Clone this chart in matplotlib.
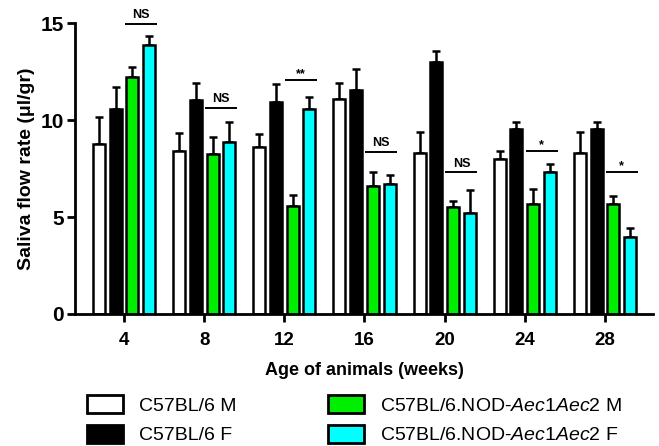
import matplotlib
matplotlib.use("Agg")
import matplotlib.pyplot as plt
from matplotlib.patches import Patch
import numpy as np

plt.rcParams['font.family'] = ['Liberation Sans', 'DejaVu Sans']
plt.rcParams['mathtext.fontset'] = 'custom'
plt.rcParams['mathtext.it'] = 'Liberation Sans:italic'
plt.rcParams['mathtext.rm'] = 'Liberation Sans'

ages = ["4", "8", "12", "16", "20", "24", "28"]
series_names = ["C57BL/6 M", "C57BL/6 F",
                "C57BL/6.NOD-$\\mathit{Aec1Aec2}$ M", "C57BL/6.NOD-$\\mathit{Aec1Aec2}$ F"]
b6_m = [8.78, 8.42, 8.62, 11.10, 8.30, 8.00, 8.30]
b6_m_err = [1.37, 0.93, 0.64, 0.80, 1.08, 0.42, 1.08]
b6_f = [10.58, 11.06, 10.93, 11.53, 13.00, 9.52, 9.52]
b6_f_err = [1.12, 0.86, 0.94, 1.11, 0.54, 0.38, 0.38]
nod_m = [12.20, 8.23, 5.55, 6.61, 5.50, 5.65, 5.69]
nod_m_err = [0.55, 0.92, 0.58, 0.73, 0.32, 0.79, 0.41]
nod_f = [13.85, 8.87, 10.58, 6.68, 5.22, 7.34, 3.95]
nod_f_err = [0.51, 1.03, 0.59, 0.48, 1.17, 0.39, 0.50]
sig_labels = ["NS", "NS", "**", "NS", "NS", "*", "*"]
sig_heights = [14.96, 10.65, 12.06, 8.37, 7.30, 8.40, 7.32]

colors = ["white", "black", "#00ee00", "#00ffff"]
values = [b6_m, b6_f, nod_m, nod_f]
errors = [b6_m_err, b6_f_err, nod_m_err, nod_f_err]

fig = plt.figure(figsize=(6.59, 4.46), dpi=100)
ax = fig.add_axes([0.114, 0.296, 0.877, 0.652])

x = np.arange(len(ages))
step = 0.209
width = 0.15
for i, (v, e, c) in enumerate(zip(values, errors, colors)):
    pos = x + (i - 1.5) * step
    ax.bar(pos, v, width=width, color=c, edgecolor="black", linewidth=1.8, zorder=2)
    ax.errorbar(pos, v, yerr=[np.zeros(len(e)), e], fmt="none", ecolor="black",
                elinewidth=1.8, capsize=3.2, capthick=1.8, zorder=1)

for xi, lab, h in zip(x, sig_labels, sig_heights):
    x0 = xi + 0.5 * step - width / 2 - 0.02
    x1 = xi + 1.5 * step + width / 2 + 0.02
    ax.plot([x0, x1], [h, h], color="black", lw=1.4, solid_capstyle="butt")
    if lab == "NS":
        ax.text((x0 + x1) / 2, h + 0.15, lab, ha="center", va="bottom",
                fontsize=9, fontweight="bold")
    else:
        ax.text((x0 + x1) / 2, h + 0.0, lab, ha="center", va="bottom",
                fontsize=9, fontweight="bold")

ax.set_xlim(-0.61, 6.6)
ax.set_ylim(0, 15)
ax.set_yticks([0, 5, 10, 15])
ax.set_xticks(x)
ax.set_xticklabels(ages)
for s in ["top", "right"]:
    ax.spines[s].set_visible(False)
for s in ["left", "bottom"]:
    ax.spines[s].set_linewidth(2)
ax.tick_params(axis="both", width=2, length=6, direction="out")
ax.tick_params(axis="y", labelsize=15, pad=2)
ax.tick_params(axis="x", labelsize=13.5, pad=7)
for lbl in ax.get_xticklabels() + ax.get_yticklabels():
    lbl.set_fontweight("bold")
ax.set_ylabel("Saliva flow rate (\u03bcl/gr)", fontsize=14, fontweight="bold", labelpad=4)
ax.set_xlabel("Age of animals (weeks)", fontsize=13, fontweight="bold", labelpad=9)

handles = [Patch(facecolor=c, edgecolor="black", linewidth=2) for c in colors]
fig.legend(handles, series_names,
           ncol=2, loc="upper left", bbox_to_anchor=(87 / 659, 1 - 395 / 446),
           frameon=False, borderpad=0, borderaxespad=0,
           fontsize=14, handlelength=1.85, handleheight=1.08, columnspacing=4.7,
           labelspacing=0.5, handletextpad=0.82)

fig.savefig("out.png", dpi=100)
